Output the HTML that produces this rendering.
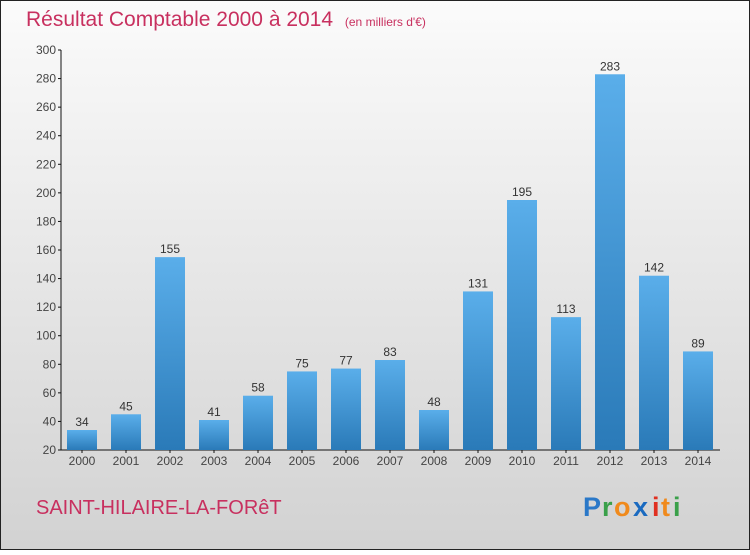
<!DOCTYPE html>
<html><head><meta charset="utf-8"><style>
html,body{margin:0;padding:0;}
body{width:750px;height:550px;overflow:hidden;font-family:"Liberation Sans",sans-serif;}
</style></head><body>
<svg id="chart" width="750" height="550" xmlns="http://www.w3.org/2000/svg">
<defs>
<linearGradient id="bg" x1="0" y1="0" x2="0" y2="1"><stop offset="0" stop-color="#fbfbfb"/><stop offset="1" stop-color="#d2d2d2"/></linearGradient>
<linearGradient id="bar" x1="0" y1="0" x2="0" y2="1"><stop offset="0" stop-color="#5aaeea"/><stop offset="1" stop-color="#2a7ab8"/></linearGradient>
</defs>
<rect x="0.5" y="0.5" width="749" height="549" fill="url(#bg)" stroke="#222"/>
<text x="26" y="26" font-size="21" fill="#c8305f">Résultat Comptable 2000 à 2014 <tspan font-size="12" dx="6">(en milliers d'€)</tspan></text>
<g id="axes"></g><g id="bars"></g>
<text x="36" y="514" font-size="20" fill="#c8305f">SAINT-HILAIRE-LA-FORêT</text>
<g font-size="27" font-weight="bold">
<text x="583" y="516" fill="#2a78c8">P</text><text x="602" y="516" fill="#3aa04a">r</text><text x="614" y="516" fill="#f08a1c">o</text><text x="633" y="516" fill="#1a6ac0">x</text><text x="652" y="516" fill="#e03020">i</text><text x="661" y="516" fill="#f08a1c">t</text><text x="673" y="516" fill="#3aa04a">i</text>
</g>
</svg>
<script>
const categories=["2000","2001","2002","2003","2004","2005","2006","2007","2008","2009","2010","2011","2012","2013","2014"];
const values=[34,45,155,41,58,75,77,83,48,131,195,113,283,142,89];
const yTicks=[20,40,60,80,100,120,140,160,180,200,220,240,260,280,300];
const NS="http://www.w3.org/2000/svg";
const yMin=20,yMax=300,plotTop=50,plotBot=450,x0=60,step=44,bw=30;
function yPos(v){return plotBot-(v-yMin)/(yMax-yMin)*(plotBot-plotTop);}
function xc(i){return x0+step*i+step/2;}
function mk(t,a,p){const e=document.createElementNS(NS,t);for(const k in a)e.setAttribute(k,a[k]);p.appendChild(e);return e;}
const ax=document.getElementById('axes'),bs=document.getElementById('bars');
const yl=mk('line',{x1:61,y1:plotTop,x2:61,y2:plotBot,stroke:'#111'},ax);


const xl=mk('line',{x1:61,y1:plotBot,x2:720,y2:plotBot,stroke:'#111'},ax);


yTicks.forEach(v=>{
 mk('line',{x1:58,y1:yPos(v),x2:61,y2:yPos(v),stroke:'#111'},ax);
 const t=mk('text',{x:56,y:yPos(v)+4,'text-anchor':'end','font-size':12,fill:'#444'},ax);t.textContent=v;
 
 
});
categories.forEach((c,i)=>{
 const v=values[i];
 const r=mk('rect',{x:xc(i)-bw/2,y:yPos(v),width:bw,height:plotBot-yPos(v),fill:'url(#bar)'},bs);
 
 
 const l=mk('text',{x:xc(i),y:yPos(v)-4,'text-anchor':'middle','font-size':12,fill:'#333'},bs);l.textContent=v;
 
 
 mk('line',{x1:xc(i),y1:plotBot,x2:xc(i),y2:plotBot+3,stroke:'#111'},ax);
 const t=mk('text',{x:xc(i),y:plotBot+15,'text-anchor':'middle','font-size':12,fill:'#444'},ax);t.textContent=c;
 
 
});
</script>
</body></html>
